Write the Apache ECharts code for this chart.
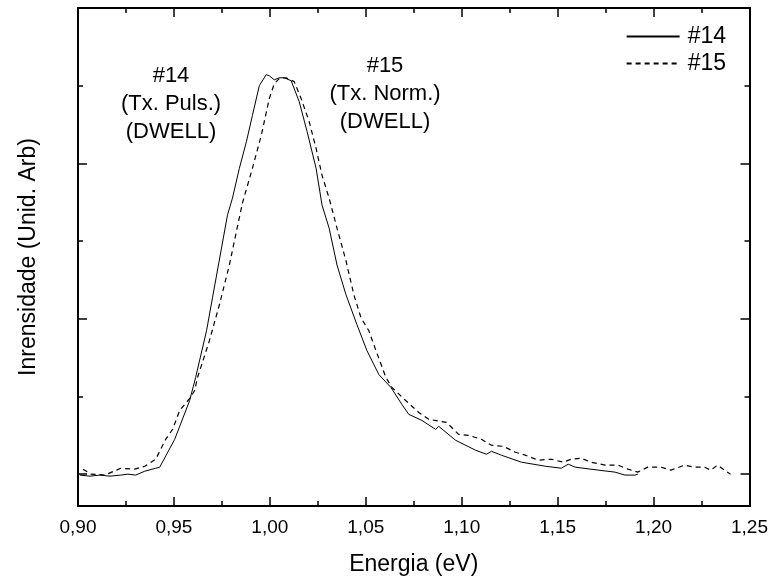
<!DOCTYPE html>
<html>
<head>
<meta charset="utf-8">
<script src="https://cdn.jsdelivr.net/npm/echarts@6/dist/echarts.min.js"></script>
<style>
html,body{margin:0;padding:0;background:#fff;}
#chart{width:771px;height:581px;}
</style>
</head>
<body>
<div id="chart"></div>
<script>
// Energy (eV) and intensity (arb. units) for sample #14 (solid)
const energy14 = [0.9010,0.9062,0.9114,0.9166,0.9223,0.9260,0.9301,0.9348,0.9405,0.9426,0.9504,0.9582,0.9613,0.9670,0.9701,0.9748,0.9779,0.9805,0.9841,0.9878,0.9909,0.9945,0.9981,0.9997,1.0023,1.0049,1.0075,1.0111,1.0153,1.0194,1.0241,1.0272,1.0309,1.0350,1.0397,1.0454,1.0506,1.0568,1.0631,1.0688,1.0724,1.0792,1.0864,1.0880,1.0968,1.1072,1.1129,1.1155,1.1207,1.1311,1.1436,1.1519,1.1555,1.1591,1.1711,1.1799,1.1851,1.1903,1.1918];
const intens14 = [-0.006,-0.013,-0.006,-0.013,-0.006,0,-0.006,0.019,0.038,0.045,0.224,0.474,0.622,0.923,1.135,1.455,1.667,1.776,1.968,2.141,2.308,2.500,2.571,2.564,2.538,2.551,2.551,2.532,2.397,2.205,1.968,1.731,1.583,1.346,1.154,0.962,0.795,0.641,0.558,0.449,0.385,0.346,0.288,0.308,0.218,0.154,0.128,0.147,0.122,0.077,0.051,0.038,0.064,0.045,0.026,0.013,-0.006,-0.006,0];
// Sample #15 (dashed)
const energy15 = [0.9026,0.9068,0.9140,0.9223,0.9296,0.9348,0.9405,0.9457,0.9493,0.9530,0.9587,0.9608,0.9623,0.9685,0.9737,0.9789,0.9826,0.9857,0.9909,0.9955,0.9997,1.0023,1.0049,1.0085,1.0127,1.0163,1.0205,1.0241,1.0272,1.0309,1.0350,1.0397,1.0438,1.0475,1.0516,1.0553,1.0605,1.0636,1.0708,1.0776,1.0828,1.0921,1.0984,1.1036,1.1103,1.1155,1.1217,1.1280,1.1332,1.1399,1.1467,1.1529,1.1570,1.1622,1.1674,1.1747,1.1815,1.1866,1.1918,1.1970,1.2038,1.2090,1.2162,1.2214,1.2266,1.2297,1.2334,1.2370,1.2401];
const intens15 = [0.032,0,-0.006,0.038,0.032,0.051,0.096,0.224,0.288,0.410,0.494,0.538,0.622,0.859,1.090,1.346,1.564,1.744,1.968,2.179,2.417,2.513,2.545,2.551,2.526,2.417,2.269,2.096,1.923,1.776,1.583,1.372,1.154,1.006,0.923,0.795,0.622,0.558,0.474,0.397,0.353,0.333,0.256,0.250,0.224,0.186,0.179,0.141,0.122,0.090,0.096,0.077,0.096,0.103,0.077,0.058,0.058,0.032,0.013,0.045,0.045,0.026,0.058,0.045,0.045,0.026,0.058,0.026,0];

const seriesNames = ['#14', '#15'];
const xTickMin = 0.90, xTickMax = 1.25, xTickStep = 0.05;
const yMajorTicks = [0, 1, 2, 3];
const yMinorTicks = [0.5, 1.5, 2.5];
const annot14 = ['#14', '(Tx. Puls.)', '(DWELL)'];
const annot15 = ['#15', '(Tx. Norm.)', '(DWELL)'];
const xTitle = 'Energia (eV)';
const yTitle = 'Inrensidade (Unid. Arb)';

const data14 = energy14.map((e, i) => [e, intens14[i]]);
const data15 = energy15.map((e, i) => [e, intens15[i]]);

const FONT = 'Liberation Sans, Arial, sans-serif';
const FS_TICK = 19, FS_TITLE = 23, FS_LEG = 23, FS_ANN = 22;
const black = '#000';
const yMin = -0.205, yMax = 3;

function yAxisDef(pos, vals, len, extra) {
  return Object.assign({
    type: 'value', position: pos, min: yMin, max: yMax,
    axisLine: { show: true, onZero: false, lineStyle: { color: black, width: 2 } },
    axisTick: { show: true, inside: true, length: len, customValues: vals, lineStyle: { color: black, width: 1.5 } },
    axisLabel: { show: false },
    splitLine: { show: false }
  }, extra || {});
}

const chart = echarts.init(document.getElementById('chart'), null, { renderer: 'canvas' });
chart.setOption({
  animation: false,
  backgroundColor: '#fff',
  grid: { left: 78, right: 19, top: 8, bottom: 72, containLabel: false },
  legend: {
    orient: 'vertical', right: 40, top: 20, itemGap: 4,
    itemWidth: 53, itemHeight: 14,
    itemStyle: { opacity: 0 },
    textStyle: { fontFamily: FONT, fontSize: FS_LEG, color: black, padding: [0, 0, 0, 3] },
    data: seriesNames
  },
  xAxis: [
    {
      type: 'value', position: 'bottom', min: xTickMin, max: xTickMax, interval: xTickStep,
      name: xTitle, nameLocation: 'middle', nameGap: 47,
      nameTextStyle: { fontFamily: FONT, fontSize: FS_TITLE, color: black },
      axisLine: { show: true, onZero: false, lineStyle: { color: black, width: 2 } },
      axisTick: { show: true, inside: true, length: 9, lineStyle: { color: black, width: 1.5 } },
      minorTick: { show: true, splitNumber: 2, length: 5, lineStyle: { color: black, width: 1.5 } },
      axisLabel: { margin: 12, fontFamily: FONT, fontSize: FS_TICK, color: black,
        formatter: v => v.toFixed(2).replace('.', ',') },
      splitLine: { show: false }, minorSplitLine: { show: false }
    },
    {
      type: 'value', position: 'top', min: xTickMin, max: xTickMax, interval: xTickStep,
      axisLine: { show: true, onZero: false, lineStyle: { color: black, width: 2 } },
      axisTick: { show: true, inside: true, length: 9, lineStyle: { color: black, width: 1.5 } },
      minorTick: { show: true, splitNumber: 2, length: 5, lineStyle: { color: black, width: 1.5 } },
      axisLabel: { show: false },
      splitLine: { show: false }, minorSplitLine: { show: false }
    }
  ],
  yAxis: [
    yAxisDef('left', yMajorTicks, 9, {
      name: yTitle, nameLocation: 'middle', nameGap: 38,
      nameTextStyle: { fontFamily: FONT, fontSize: FS_TITLE, color: black }
    }),
    yAxisDef('left', yMinorTicks, 5),
    yAxisDef('right', yMajorTicks, 9),
    yAxisDef('right', yMinorTicks, 5)
  ],
  series: [
    {
      name: seriesNames[0], type: 'line', data: data14, xAxisIndex: 0, yAxisIndex: 0,
      showSymbol: false, symbol: 'none', smooth: false,
      lineStyle: { color: black, width: 1, type: 'solid' }, itemStyle: { color: black }
    },
    {
      name: seriesNames[1], type: 'line', data: data15, xAxisIndex: 0, yAxisIndex: 0,
      showSymbol: false, symbol: 'none', smooth: false,
      lineStyle: { color: black, width: 1.2, type: [5, 4] }, itemStyle: { color: black }
    }
  ],
  graphic: [
    { type: 'text', x: 171, y: 62, style: {
      text: annot14.join('\n'), fontFamily: FONT, fontSize: FS_ANN, lineHeight: 28,
      fill: black, align: 'center', verticalAlign: 'top' } },
    { type: 'text', x: 385, y: 52, style: {
      text: annot15.join('\n'), fontFamily: FONT, fontSize: FS_ANN, lineHeight: 28,
      fill: black, align: 'center', verticalAlign: 'top' } }
  ]
});
</script>
</body>
</html>
